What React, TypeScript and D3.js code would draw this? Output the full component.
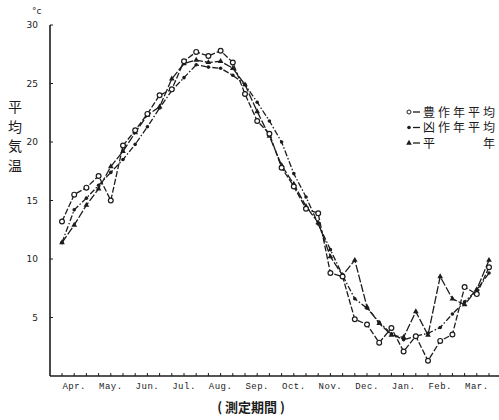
import React from "react";
import * as d3 from "d3";

// months along the x axis (3 dekads each)
const months = ["Apr.", "May.", "Jun.", "Jul.", "Aug.", "Sep.", "Oct.", "Nov.", "Dec.", "Jan.", "Feb.", "Mar."];
const yTicks = [5, 10, 15, 20, 25, 30];

// 豊作年平均 (circles)
const goodYear = [13.2, 15.5, 16.1, 17.1, 15.0, 19.7, 21.0, 22.4, 24.0, 24.5, 26.9, 27.7,
  27.35, 27.8, 26.8, 24.1, 21.8, 20.7, 17.8, 16.2, 14.3, 13.9, 8.8, 8.5,
  4.85, 4.4, 2.85, 4.1, 2.1, 3.4, 1.3, 3.0, 3.55, 7.6, 7.0, 9.3];
// 凶作年平均 (dots)
const badYear = [11.4, 14.2, 15.2, 16.3, 17.4, 18.5, 19.8, 21.3, 22.9, 24.4, 25.5, 26.6,
  26.4, 26.3, 25.7, 24.9, 23.4, 21.8, 20.0, 17.3, 15.3, 13.0, 10.8, 8.6,
  6.6, 5.8, 4.6, 3.6, 3.1, 3.4, 3.65, 4.15, 5.3, 6.35, 7.35, 8.8];
// 平年 (triangles)
const normalYear = [11.4, 12.9, 14.6, 16.0, 17.9, 19.2, 20.8, 22.3, 23.0, 25.4, 26.7, 27.0,
  26.8, 26.9, 26.3, 24.9, 22.6, 20.5, 18.0, 16.4, 14.5, 13.1, 10.2, 8.6,
  9.9, 5.9, 4.5, 3.5, 3.3, 5.5, 3.5, 8.5, 6.6, 6.1, 7.4, 9.9];

const legendRows = [
  { label: "豊作年平均", kind: "circle" },
  { label: "凶作年平均", kind: "dot" },
  { label: "平", tail: "年", kind: "tri" },
];

const ink = "#1c1c1c";
const jp = "'Noto Sans CJK JP', sans-serif";

export default function App() {
  const x = d3.scaleLinear().domain([0, 35]).range([62, 489]);
  const y = d3.scaleLinear().domain([0, 30]).range([376, 25]);
  const line = d3.line<number>().x((_, i) => x(i)).y(d => y(d));
  const dekads = d3.range(36);
  const tri = d3.symbol().type(d3.symbolTriangle).size(14);

  return (
    <svg width={499} height={420} style={{ position: "absolute", left: 0, top: 0, background: "#fff" }}
      fontFamily={jp}>
      {/* axes */}
      <line x1={50} x2={50} y1={y(30)} y2={y(0)} stroke={ink} strokeWidth={1.6} />
      <line x1={50} x2={499} y1={y(0)} y2={y(0)} stroke={ink} strokeWidth={1.6} />
      {yTicks.map(t => (
        <g key={t}>
          <line x1={50} x2={53} y1={y(t)} y2={y(t)} stroke={ink} />
          <text x={38} y={y(t) + 3} fontSize={9} textAnchor="end" fill={ink}
            fontFamily="'DejaVu Sans', sans-serif">{t}</text>
        </g>
      ))}
      <text x={32} y={14} fontSize={9} fill={ink} fontFamily="'DejaVu Sans', sans-serif">°c</text>
      {dekads.map(i => (
        <line key={i} x1={x(i)} x2={x(i)} y1={y(0)} y2={y(0) - 3} stroke={ink} />
      ))}
      {months.map((m, k) => (
        <text key={m} x={x(k * 3 + 1)} y={389} fontSize={9} textAnchor="middle" fill={ink}
          letterSpacing={0.5} fontFamily="'Liberation Mono', monospace">{m}</text>
      ))}
      {["平", "均", "気", "温"].map((c, k) => (
        <text key={c} x={15} y={112 + k * 19.5} fontSize={14} textAnchor="middle" fill={ink}>{c}</text>
      ))}
      <text x={251} y={412} fontSize={13} textAnchor="middle" fill={ink} fontWeight="bold">( 測定期間 )</text>

      {/* series */}
      <path d={line(badYear) ?? ""} fill="none" stroke={ink} strokeWidth={1.3} strokeDasharray="6,2,1.5,2" />
      <path d={line(normalYear) ?? ""} fill="none" stroke={ink} strokeWidth={1.3} strokeDasharray="8,2" />
      <path d={line(goodYear) ?? ""} fill="none" stroke={ink} strokeWidth={1.3} strokeDasharray="6,2" />
      {badYear.map((v, i) => (
        <circle key={"b" + i} cx={x(i)} cy={y(v)} r={1.8} fill={ink} />
      ))}
      {normalYear.map((v, i) => (
        <path key={"n" + i} d={tri() ?? ""} transform={`translate(${x(i)},${y(v)})`} fill={ink} />
      ))}
      {goodYear.map((v, i) => (
        <circle key={"g" + i} cx={x(i)} cy={y(v)} r={2.4} fill="#fff" stroke={ink} strokeWidth={1.2} />
      ))}

      {/* legend */}
      <g fontSize={12} fill={ink} letterSpacing={3}>
        {legendRows.map((r, k) => {
          const cy = 112 + k * 15.5;
          return (
            <g key={r.label}>
              {r.kind === "circle" && <circle cx={409} cy={cy} r={2} fill="#fff" stroke={ink} />}
              {r.kind === "dot" && <circle cx={409} cy={cy} r={1.8} fill={ink} />}
              {r.kind === "tri" && <path d={tri() ?? ""} transform={`translate(409,${cy})`} fill={ink} />}
              <line x1={413} x2={420} y1={cy} y2={cy} stroke={ink} strokeWidth={1.3} />
              <text x={423} y={cy + 4.5}>{r.label}</text>
              {r.tail && <text x={483} y={cy + 4.5}>{r.tail}</text>}
            </g>
          );
        })}
      </g>
    </svg>
  );
}
